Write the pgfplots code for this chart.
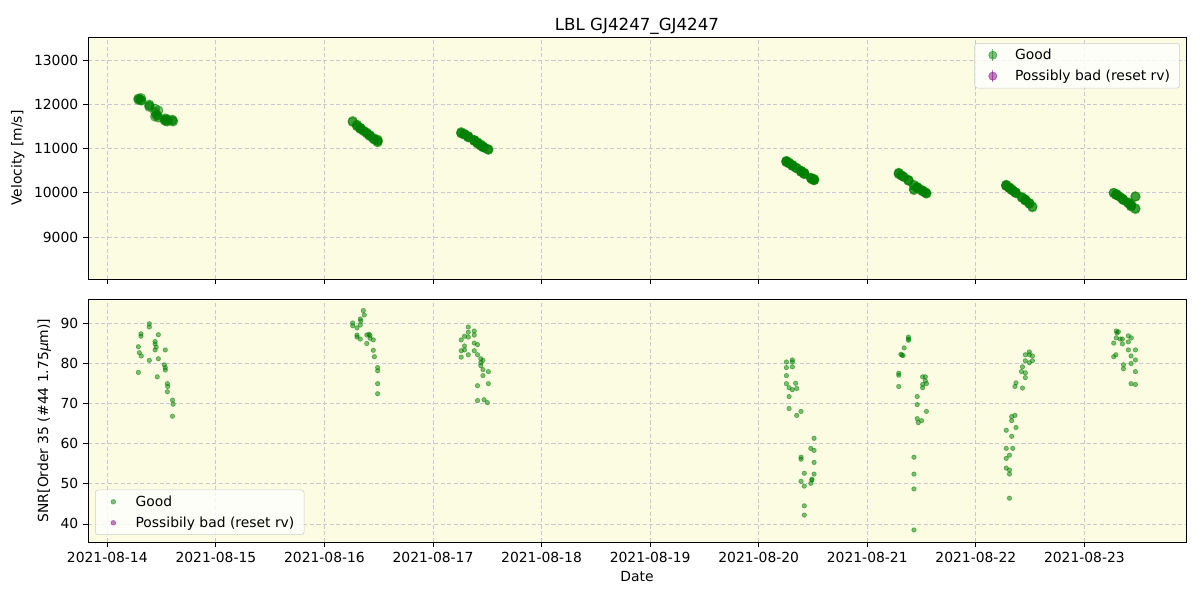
\documentclass[border=0pt]{standalone}
\usepackage{fontspec}
\setmainfont{DejaVu Sans}
\usepackage{pgfplots}
\pgfplotsset{compat=1.18}
\definecolor{mplgreen}{RGB}{0,128,0}
\definecolor{mplpurple}{RGB}{128,0,128}
\definecolor{bgyellow}{RGB}{252,252,226}
\definecolor{gridc}{RGB}{200,200,210}
\definecolor{legedge}{RGB}{204,204,204}

\pgfplotstableread{
x v
14.286 12130
14.286 12100
14.295 12115
14.313 12086
14.31 12140
14.31 12090
14.387 11966
14.387 11940
14.387 11990
14.44 11900
14.44 11820
14.45 11760
14.44 11720
14.47 11860
14.47 11700
14.46 11750
14.534 11680
14.525 11650
14.534 11640
14.534 11620
14.553 11660
14.556 11640
14.553 11610
14.6 11650
14.606 11610
14.6 11630
16.358 11404
16.367 11386
16.26 11600
16.26 11620
16.33 11460
16.335 11450
16.33 11470
16.30 11520
16.30 11540
16.30 11500
16.33 11440
16.39 11340
16.41 11300
16.42 11280
16.42 11300
16.45 11220
16.39 11360
16.45 11240
16.46 11200
16.49 11160
16.49 11180
16.49 11140
16.49 11200
17.325 11266
17.325 11280
17.325 11250
17.29 11322
17.38 11178
17.38 11190
17.26 11370
17.29 11330
17.29 11310
17.26 11350
17.26 11340
17.325 11260
17.38 11170
17.41 11130
17.38 11190
17.41 11110
17.44 11080
17.44 11060
17.44 11090
17.46 11050
17.46 11040
17.51 10970
17.46 11030
17.41 11120
17.51 10980
17.41 11140
17.47 11020
17.50 10990
20.255 10710
20.255 10700
20.255 10720
20.255 10690
20.31 10620
20.31 10630
20.31 10610
20.34 10570
20.28 10670
20.31 10610
20.35 10560
20.28 10680
20.28 10660
20.35 10550
20.39 10490
20.51 10290
20.48 10340
20.51 10300
20.39 10480
20.39 10500
20.51 10310
20.42 10440
20.51 10280
20.39 10470
20.42 10430
20.48 10330
20.49 10320
20.49 10300
20.42 10450
20.42 10420
21.379 10280
21.38 10270
21.38 10290
21.34 10350
21.31 10400
21.33 10370
21.32 10380
21.29 10440
21.29 10420
21.29 10450
21.51 10040
21.535 10010
21.535 10000
21.545 9990
21.51 10050
21.51 10030
21.46 10130
21.46 10110
21.545 9980
21.46 10120
21.50 10060
21.47 10100
21.43 10180
21.43 10060
21.43 10080
21.43 10150
22.493 9770
22.493 9760
22.456 9830
22.521 9690
22.521 9670
22.493 9750
22.456 9840
22.43 9880
22.42 9900
22.456 9820
22.456 9850
22.37 10000
22.36 10010
22.43 9890
22.36 10020
22.33 10080
22.33 10070
22.37 9990
22.28 10170
22.33 10060
22.28 10160
22.34 10050
22.31 10110
22.28 10180
22.28 10150
22.31 10120
22.31 10100
22.31 10110
23.294 9960
23.313 9930
23.30 9950
23.405 9770
23.432 9730
23.294 9970
23.33 9900
23.35 9860
23.27 10000
23.35 9870
23.405 9780
23.405 9760
23.47 9910
23.27 9990
23.29 9950
23.43 9720
23.47 9920
23.43 9700
23.36 9840
23.36 9830
23.47 9650
23.43 9690
23.47 9630
}\veltable

\pgfplotstableread{
x s
14.286 84.1
14.286 77.7
14.295 82.6
14.313 81.8
14.31 87.3
14.31 86.7
14.387 89.8
14.387 89.0
14.387 80.7
14.44 85.4
14.44 84.8
14.45 84.0
14.44 83.3
14.47 87.1
14.47 81.1
14.46 76.6
14.534 83.3
14.525 79.6
14.534 78.9
14.534 78.3
14.553 74.9
14.556 74.2
14.553 72.9
14.6 70.8
14.606 69.8
14.6 66.8
16.358 93.1
16.367 92.0
16.26 90.0
16.26 89.3
16.33 91.0
16.335 90.5
16.33 89.5
16.30 88.8
16.30 87.0
16.30 86.5
16.33 86.0
16.39 87.0
16.41 87.2
16.42 86.9
16.42 86.2
16.45 85.8
16.39 84.9
16.45 83.2
16.46 81.6
16.49 78.9
16.49 78.1
16.49 74.9
16.49 72.4
17.325 89.0
17.325 87.7
17.325 86.5
17.29 86.7
17.38 88.0
17.38 87.0
17.26 85.8
17.29 84.3
17.29 83.3
17.26 83.1
17.26 81.5
17.325 82.1
17.38 85.0
17.41 84.6
17.38 83.1
17.41 82.1
17.44 81.1
17.44 80.1
17.44 79.4
17.46 80.7
17.46 78.4
17.51 77.9
17.46 76.9
17.41 74.4
17.51 74.9
17.41 70.7
17.47 70.9
17.50 70.2
20.255 80.3
20.255 78.9
20.255 76.9
20.255 74.9
20.31 80.8
20.31 80.3
20.31 79.1
20.34 75.0
20.28 73.9
20.31 73.4
20.35 73.7
20.28 71.7
20.28 68.7
20.35 67.0
20.39 68.0
20.51 61.3
20.48 58.8
20.51 58.3
20.39 56.6
20.39 56.1
20.51 55.3
20.42 52.6
20.51 52.4
20.39 50.6
20.42 49.4
20.48 50.1
20.49 50.9
20.49 51.1
20.42 44.5
20.42 42.2
21.379 86.5
21.38 85.7
21.38 86.0
21.34 83.8
21.31 82.2
21.33 81.9
21.32 82.0
21.29 77.5
21.29 77.0
21.29 74.2
21.51 76.6
21.535 76.6
21.535 75.6
21.545 74.9
21.51 74.7
21.51 73.9
21.46 71.7
21.46 69.7
21.545 68.0
21.46 66.2
21.50 65.7
21.47 65.2
21.43 56.6
21.43 52.4
21.43 48.7
21.43 38.5
22.493 82.8
22.493 82.1
22.456 82.1
22.521 81.8
22.521 80.6
22.493 80.1
22.456 80.6
22.43 79.1
22.42 77.9
22.456 77.6
22.456 76.4
22.37 75.1
22.36 74.2
22.43 73.8
22.36 67.0
22.33 66.7
22.33 65.7
22.37 64.0
22.28 63.3
22.33 61.8
22.28 58.8
22.34 58.8
22.31 57.1
22.28 56.3
22.28 53.9
22.31 53.4
22.31 52.4
22.31 46.4
23.294 88.0
23.313 87.8
23.30 87.5
23.405 86.8
23.432 86.3
23.294 86.3
23.33 86.0
23.35 86.0
23.27 85.0
23.35 84.8
23.405 85.3
23.405 83.3
23.47 83.3
23.27 81.6
23.29 82.1
23.43 81.8
23.47 80.8
23.43 79.9
23.36 79.6
23.36 78.6
23.47 77.9
23.43 74.9
23.47 74.7
}\snrtable

\pgfplotsset{
  common/.style={
    scale only axis,
    anchor=south west,
    width=790.56pt,
    xmin=13.822, xmax=23.936,
    axis background/.style={fill=bgyellow},
    grid=major,
    major grid style={gridc, dash pattern=on 2.9pt off 1.8pt, line width=0.6pt},
    axis line style={line width=0.6pt, black},
    tick align=outside,
    xtick pos=bottom, ytick pos=left,
    major tick length=3.5pt,
    tick style={line width=0.6pt, black},
    xtick={14,15,16,17,18,19,20,21,22,23},
    scaled y ticks=false,
    ticklabel style={font=\fontsize{10}{12}\selectfont},
    label style={font=\fontsize{10}{12}\selectfont},
    /pgf/number format/assume math mode=true,
    /pgf/number format/1000 sep={},
    legend style={font=\fontsize{10}{12}\selectfont, draw=legedge, rounded corners=2pt,
      fill=white, fill opacity=0.8, text opacity=1, inner xsep=3pt, inner ysep=2pt,
      row sep=2pt, nodes={inner xsep=4pt}},
    legend cell align=left,
  },
  errleg/.style={legend image code/.code={
    \path[draw=none, fill=none] (0,-5pt) rectangle (22pt,5pt);
    \draw[#1, opacity=0.5, line width=0.8pt] (10pt,-4.5pt) -- (10pt,4.5pt);
    \fill[#1, opacity=0.5] (10pt,0) circle (3pt);}},
  dotleg/.style={legend image code/.code={
    \path[draw=none, fill=none] (0,-4pt) rectangle (22pt,4pt);
    \fill[#1, opacity=0.5] (10pt,0) circle (1.7pt);}},
}

\begin{document}
\begin{tikzpicture}[x=1pt,y=1pt]
\path (0,0) rectangle (864,432);

\begin{axis}[common,
  at={(63.36pt,231.12pt)},
  height=174.24pt,
  ymin=8050, ymax=13520,
  ytick={9000,10000,11000,12000,13000},
  xticklabels={},
  ylabel={Velocity [m/s]},
  title={LBL GJ4247\_GJ4247},
  title style={font=\fontsize{12}{14}\selectfont, yshift=-8pt},
  legend style={at={(0.9945,0.975)}, anchor=north east},
]
\addplot[only marks, mark=*, mark size=3.3pt, forget plot,
  mark options={draw=mplgreen, fill=mplgreen, draw opacity=0.5, fill opacity=0.5, line width=0.7pt}]
  table[x=x, y=v] {\veltable};
\addlegendimage{errleg=mplgreen}
\addlegendentry{Good}
\addlegendimage{errleg=mplpurple}
\addlegendentry{Possibly bad (reset rv)}
\end{axis}

\begin{axis}[common,
  at={(63.36pt,41.76pt)},
  height=174.96pt,
  ymin=35.5, ymax=95.97,
  ytick={40,50,60,70,80,90},
  xticklabels={2021-08-14,2021-08-15,2021-08-16,2021-08-17,2021-08-18,2021-08-19,2021-08-20,2021-08-21,2021-08-22,2021-08-23},
  xlabel={Date},
  ylabel={SNR[Order 35 (\#44 1.75\textit{μ}m)]},
  legend style={at={(0.0064,0.029)}, anchor=south west},
]
\addplot[only marks, mark=*, mark size=1.6pt, forget plot,
  mark options={draw=mplgreen, fill=mplgreen, draw opacity=0.5, fill opacity=0.5, line width=0.5pt}]
  table[x=x, y=s] {\snrtable};
\addlegendimage{dotleg=mplgreen}
\addlegendentry{Good}
\addlegendimage{dotleg=mplpurple}
\addlegendentry{Possibily bad (reset rv)}
\end{axis}
\end{tikzpicture}
\end{document}
